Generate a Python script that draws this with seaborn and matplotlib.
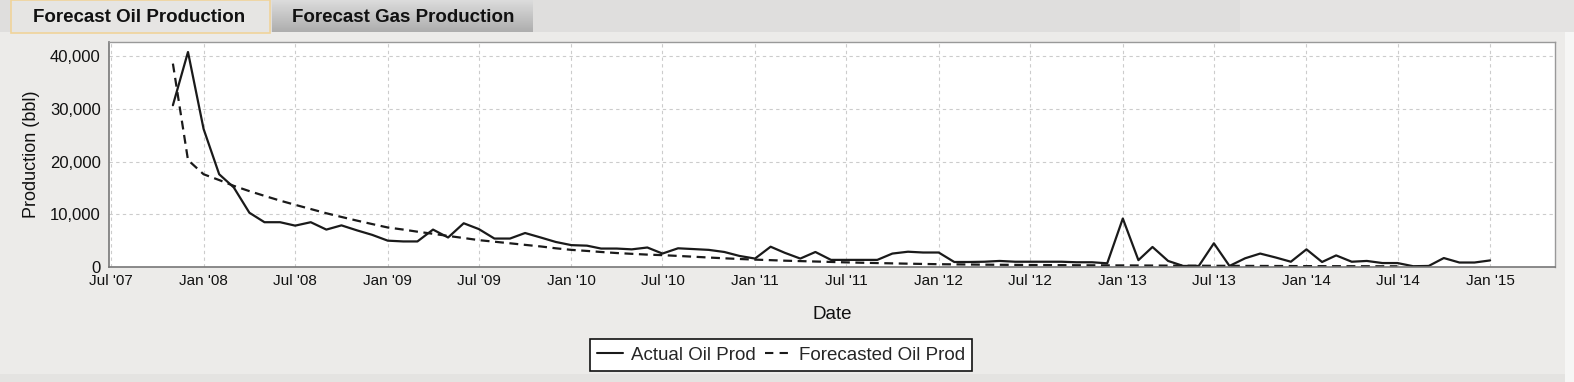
import numpy as np
import pandas as pd
import matplotlib
matplotlib.use("Agg")
import matplotlib.pyplot as plt
import matplotlib.dates as mdates
import matplotlib.ticker as mticker
from matplotlib.patches import Rectangle
import seaborn as sns

# monthly production, bbl
actual_start = "2007-11-01"
actual_oil = [30700, 40800,
              26200, 17600, 15100, 10300, 8500, 8500, 7850, 8500, 7100, 7900, 6950, 6100,
              5000, 4850, 4850, 7100, 5600, 8300, 7200, 5400, 5400, 6450, 5600, 4750,
              4150, 4050, 3500, 3500, 3350, 3700, 2550, 3550, 3400, 3250, 2850, 2100,
              1600, 3850, 2700, 1600, 2850, 1350, 1350, 1350, 1350, 2550, 2900, 2750,
              2750, 950, 950, 1000, 1150, 1000, 1000, 1000, 1000, 900, 900, 700,
              9200, 1300, 3800, 1150, 200, 200, 4500, 200, 1650, 2550, 1800, 1000,
              3350, 950, 2200, 1000, 1150, 750, 750, 150, 200, 1700, 850, 850,
              1250]

forecast_start = "2007-11-01"
forecast_oil = [38600, 20300,
                17600, 16500, 15400, 14400, 13500, 12600, 11800, 11000, 10200, 9500, 8800, 8150,
                7500, 7100, 6700, 6300, 5900, 5500, 5100, 4800, 4500, 4200, 3900, 3550,
                3250, 3050, 2850, 2650, 2500, 2350, 2250, 2100, 1950, 1800, 1650, 1520,
                1400, 1300, 1200, 1120, 1040, 960, 880, 810, 750, 690, 630, 580,
                530, 500, 470, 440, 420, 400, 380, 365, 350, 335, 320, 310,
                300, 290, 275, 260, 250, 240, 230, 220, 210, 200, 190, 180,
                170, 160, 155, 150, 145, 140, 135]

tab_labels = ["Forecast Oil Production", "Forecast Gas Production"]
series_names = ["Actual Oil Prod", "Forecasted Oil Prod"]

df_act = pd.DataFrame({"Date": pd.date_range(actual_start, periods=len(actual_oil), freq="MS"),
                       "Production": actual_oil, "series": series_names[0]})
df_fc = pd.DataFrame({"Date": pd.date_range(forecast_start, periods=len(forecast_oil), freq="MS"),
                      "Production": forecast_oil, "series": series_names[1]})
df = pd.concat([df_act, df_fc], ignore_index=True)

sns.set_style("white")
plt.rcParams["font.family"] = ["Liberation Sans", "DejaVu Sans"]

W, H = 1574, 382
fig = plt.figure(figsize=(W / 100, H / 100), dpi=100)
fig.patch.set_facecolor("#ecebe9")


def px_rect(x0, y0, x1, y1, **kw):
    # rectangle in pixel coords, y measured from top
    r = Rectangle((x0 / W, 1 - y1 / H), (x1 - x0) / W, (y1 - y0) / H,
                  transform=fig.transFigure, zorder=0, **kw)
    fig.patches.append(r)
    return r


# tab strip background
px_rect(0, 0, 1240, 32, facecolor="#dfdedd", edgecolor="none")
px_rect(1240, 0, W, 32, facecolor="#e4e3e2", edgecolor="none")
px_rect(1565, 32, W, H, facecolor="#f6f6f5", edgecolor="none")
px_rect(0, 374, 1565, H, facecolor="#e4e3e1", edgecolor="none")
# active tab
px_rect(11, 0, 270, 33, facecolor="#e6e5e3", edgecolor="#f0d49a", linewidth=1.2)
# inactive tab with gradient
tab2 = fig.add_axes([272 / W, 1 - 32 / H, (533 - 272) / W, 32 / H])
tab2.set_zorder(2)
grad = np.linspace(0.86, 0.68, 50).reshape(-1, 1)
tab2.imshow(grad, aspect="auto", cmap="gray", vmin=0, vmax=1, extent=(0, 1, 0, 1))
tab2.axis("off")
fig.text(139 / W, 1 - 17 / H, tab_labels[0], ha="center", va="center",
         fontsize=13.5, fontweight="bold", color="#111111", zorder=5)
fig.text(403 / W, 1 - 17 / H, tab_labels[1], ha="center", va="center",
         fontsize=13.5, fontweight="bold", color="#111111", zorder=5)

ax = fig.add_axes([109 / W, 1 - 267 / H, (1555 - 109) / W, (267 - 42) / H])
ax.set_facecolor("white")

sns.lineplot(data=df, x="Date", y="Production", style="series",
             dashes={series_names[0]: "", series_names[1]: (4, 2.5)},
             color="#1a1a1a", linewidth=1.6, ax=ax, legend=False)

ax.set_xlim(pd.Timestamp("2007-06-27"), pd.Timestamp("2015-05-10"))
ax.set_ylim(0, 42700)
ax.xaxis.set_major_locator(mdates.MonthLocator(bymonth=[1, 7]))
ax.xaxis.set_major_formatter(mdates.DateFormatter("%b '%y"))
ax.yaxis.set_major_locator(mticker.MultipleLocator(10000))
ax.yaxis.set_major_formatter(mticker.FuncFormatter(lambda v, p: f"{v:,.0f}"))

ax.grid(True, color="#cccccc", linestyle=(0, (3, 3)), linewidth=0.8)
ax.tick_params(axis="x", direction="out", length=4, width=1, color="#555555",
               labelsize=11, pad=1, labelcolor="#111111")
ax.tick_params(axis="y", direction="out", length=4, width=1, color="#555555",
               labelsize=12, pad=2, labelcolor="#111111")
for s in ["left", "bottom"]:
    ax.spines[s].set_color("#777777")
    ax.spines[s].set_linewidth(1.2)
for s in ["top", "right"]:
    ax.spines[s].set_color("#999999")
    ax.spines[s].set_linewidth(1.0)

ax.set_xlabel("Date", fontsize=13.5, labelpad=13, color="#111111")
ax.set_ylabel("Production (bbl)", fontsize=13, labelpad=7, color="#111111")

handles = [plt.Line2D([], [], color="#1a1a1a", linewidth=1.5),
           plt.Line2D([], [], color="#1a1a1a", linewidth=1.5, linestyle=(0, (4, 3)))]
leg = fig.legend(handles, series_names, loc="center", ncol=2,
                 bbox_to_anchor=(781 / W, 1 - 355 / H), fontsize=13.5,
                 frameon=True, fancybox=False, handlelength=1.4, handletextpad=0.4,
                 columnspacing=0.5, borderpad=0.4)
leg.get_frame().set_edgecolor("#111111")
leg.get_frame().set_linewidth(1.2)
leg.get_frame().set_facecolor("white")
leg.get_frame().set_alpha(1)

fig.savefig("out.png", dpi=100, facecolor=fig.get_facecolor())
